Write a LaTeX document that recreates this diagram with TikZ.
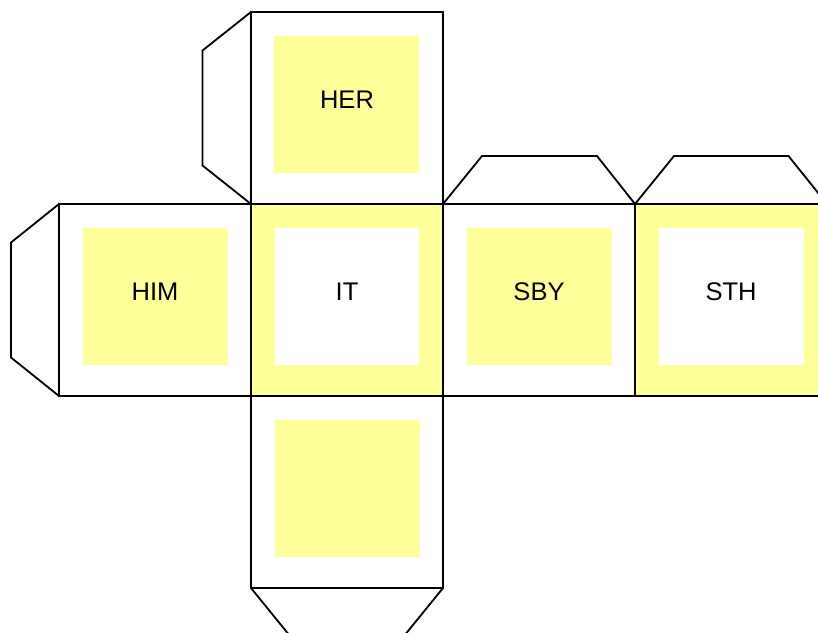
\documentclass[tikz,border=0pt]{standalone}
\usepackage{fontspec}
\setmainfont{Liberation Sans}
\definecolor{pale}{HTML}{FFFF99}
\begin{document}
\begin{tikzpicture}[x=1pt,y=-1pt,
  edge/.style={draw=black,line width=1.8pt,line join=miter},
  lbl/.style={font=\fontsize{25.5}{30}\selectfont,anchor=base,inner sep=0pt}]
\useasboundingbox (0,0) rectangle (818,632);
\clip (0,0) rectangle (818,632);
% face fills
\fill[pale] (251,204) rectangle (443,396);
\fill[white] (275,228) rectangle (419,365);
\fill[pale] (635,204) rectangle (827,396);
\fill[white] (659,228) rectangle (804,365);
\fill[pale] (274,36) rectangle (419,173);
\fill[pale] (83,228) rectangle (228,365);
\fill[pale] (467,228) rectangle (612,365);
\fill[pale] (275,420) rectangle (420,557);
% faces
\draw[edge] (251,12) rectangle (443,204);
\draw[edge] (59,204) rectangle (251,396);
\draw[edge] (251,204) rectangle (443,396);
\draw[edge] (443,204) rectangle (635,396);
\draw[edge] (635,204) rectangle (827,396);
\draw[edge] (251,396) rectangle (443,588);
% tabs
\draw[edge] (251,12) -- (202.5,50.5) -- (202.5,165.5) -- (251,204);
\draw[edge] (59,204) -- (11,242.5) -- (11,357.5) -- (59,396);
\draw[edge] (443,204) -- (482,156) -- (597,156) -- (635,204);
\draw[edge] (635,204) -- (674,156) -- (788.5,156) -- (827,204);
\draw[edge] (251,588) -- (290,636);
\draw[edge] (443,588) -- (404,636);
% labels
\node[lbl] (her) at (347,108) {HER};
\node[lbl] (him) at (155,300) {HIM};
\node[lbl] (it) at (347,300) {IT};
\node[lbl] (sby) at (539,300) {SBY};
\node[lbl] (sth) at (731,300) {STH};
\end{tikzpicture}
\end{document}
